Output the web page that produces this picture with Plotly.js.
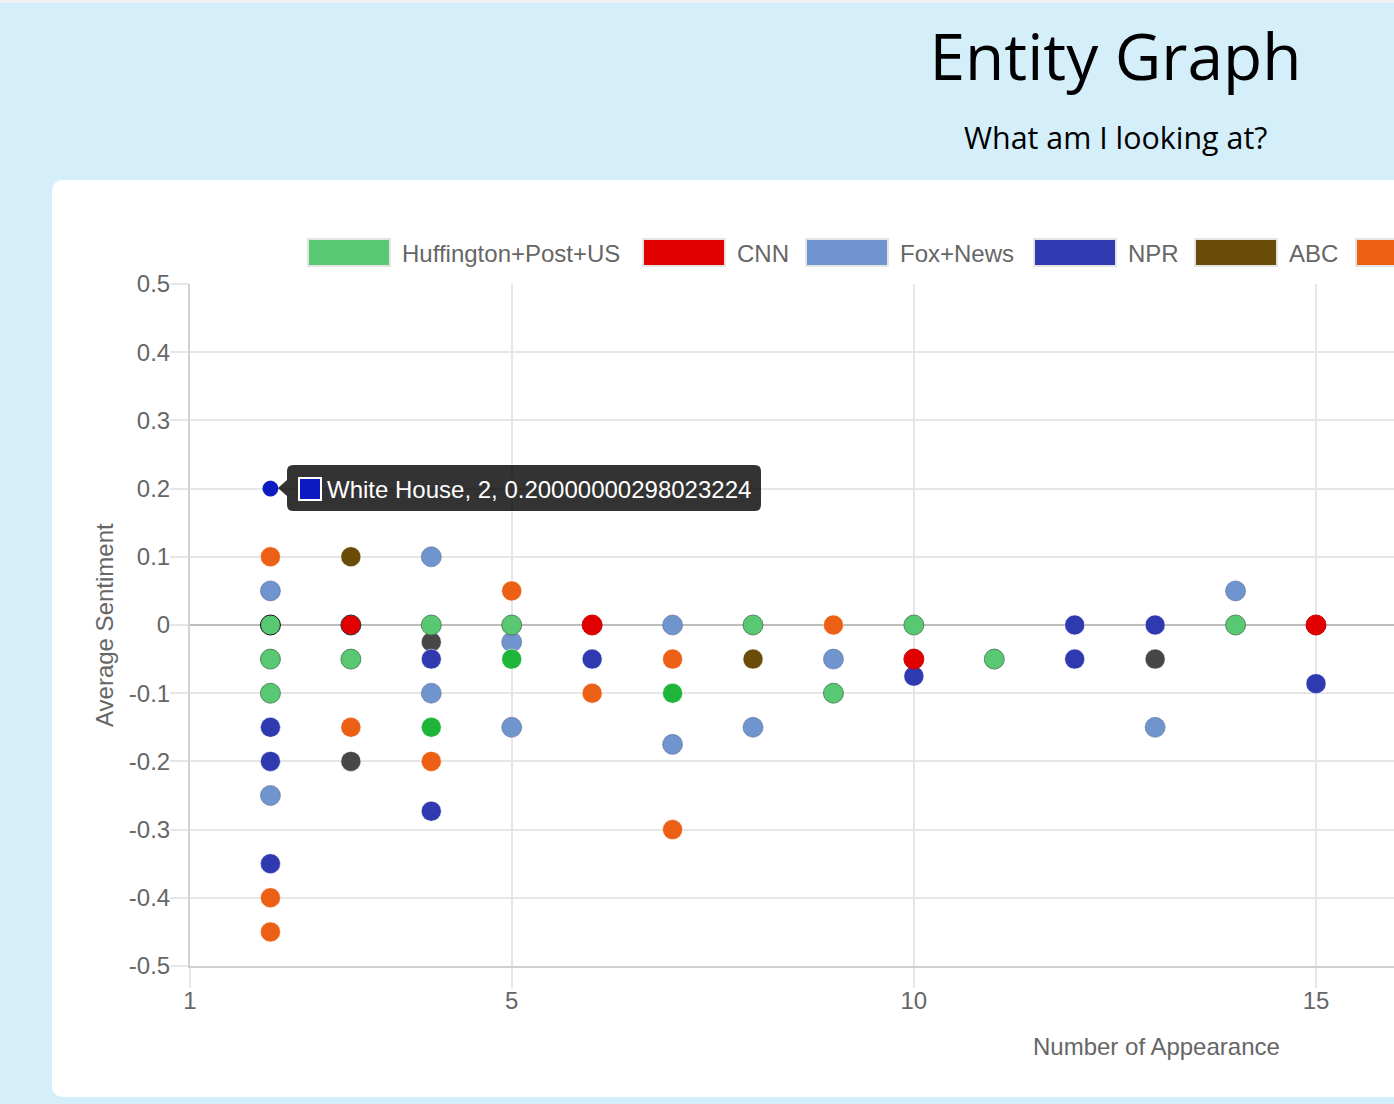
<!DOCTYPE html>
<html>
<head>
<meta charset="utf-8">
<script src="https://cdn.plot.ly/plotly-3.0.1.min.js"></script>
<style>
  html, body { margin:0; padding:0; width:1394px; height:1104px; overflow:hidden; background:#d4eefa; }
  #topstrip { position:absolute; left:0; top:0; width:1394px; height:3px; background:#eef2f4; }
  #card { position:absolute; left:52px; top:180px; width:1420px; height:917px; background:#ffffff; border-radius:10px; }
  #chart { position:absolute; left:0; top:0; width:1394px; height:1104px; }
</style>
</head>
<body>
<div id="topstrip"></div>
<div id="card"></div>
<div id="chart"></div>
<script>
// ---- data ----
const seriesNames = ["Huffington+Post+US", "CNN", "Fox+News", "NPR", "ABC", "Source 6", "Source 7", "Source 8", "Source 9"];
const seriesColors = ["#59c872", "#e00000", "#7094cd", "#2f3ab0", "#6a4b07", "#eb6014", "#474747", "#1fb43a", "#0c1ac2"];

const huffX = [2, 2, 2, 3, 4, 5, 8, 9, 10, 11, 14];
const huffY = [0, -0.05, -0.1, -0.05, 0, 0, 0, -0.1, 0, -0.05, 0];
const cnnX = [3, 6, 10, 15];
const cnnY = [0, 0, -0.05, 0];
const foxX = [2, 2, 4, 4, 5, 5, 7, 7, 8, 9, 13, 14];
const foxY = [0.05, -0.25, 0.1, -0.1, -0.025, -0.15, 0, -0.175, -0.15, -0.05, -0.15, 0.05];
const nprX = [2, 2, 2, 4, 4, 6, 10, 12, 12, 13, 15];
const nprY = [-0.15, -0.2, -0.35, -0.05, -0.273, -0.05, -0.075, 0, -0.05, 0, -0.086];
const abcX = [3, 8];
const abcY = [0.1, -0.05];
const orangeX = [2, 2, 2, 3, 4, 5, 6, 7, 7, 9];
const orangeY = [0.1, -0.4, -0.45, -0.15, -0.2, 0.05, -0.1, -0.05, -0.3, 0];
const greyX = [3, 4, 13];
const greyY = [-0.2, -0.025, -0.05];
const brightGreenX = [4, 5, 7];
const brightGreenY = [-0.15, -0.05, -0.1];
const whiteHouseX = [2];
const whiteHouseY = [0.20000000298023224];
const tooltipEntity = "White House";

const xTickVals = [1, 5, 10, 15];
const xTickText = ["1", "5", "10", "15"];
const yTickVals = [0.5, 0.4, 0.3, 0.2, 0.1, 0, -0.1, -0.2, -0.3, -0.4, -0.5];
const yTickText = ["0.5", "0.4", "0.3", "0.2", "0.1", "0", "-0.1", "-0.2", "-0.3", "-0.4", "-0.5"];

const chartTitle = "Entity Graph";
const chartSubtitle = "What am I looking at?";
const xTitle = "Number of Appearance";
const yTitle = "Average Sentiment";

// ---- layout geometry (pixels) ----
const W = 1394, H = 1104;
const L = 190, R = 1394, T = 284, B = 966;
const px = v => (v - L) / (R - L);
const py = v => (B - v) / (B - T);
const FONT = "Liberation Sans, Arial, Helvetica, sans-serif";

function sc(name, color, xs, ys, size, lineColors) {
  return {
    type: "scatter", mode: "markers", name: name, x: xs, y: ys,
    showlegend: false, hoverinfo: "skip",
    marker: { color: color, size: size, line: { width: 1, color: lineColors } }
  };
}

const huffLines = huffX.map((v, i) => i === 0 ? "#111111" : "rgba(70,120,80,0.85)");
const cnnLines = cnnX.map((v, i) => i === 0 ? "#333333" : "#d00000");

// drawing order: bottom -> top
const traces = [
  sc(seriesNames[6], seriesColors[6], greyX, greyY, 20, "rgba(255,255,255,0.5)"),
  sc(seriesNames[8], seriesColors[8], whiteHouseX, whiteHouseY, 15, seriesColors[8]),
  sc(seriesNames[5], seriesColors[5], orangeX, orangeY, 20, "rgba(255,255,255,0.5)"),
  sc(seriesNames[4], seriesColors[4], abcX, abcY, 20, "rgba(255,255,255,0.5)"),
  sc(seriesNames[3], seriesColors[3], nprX, nprY, 20, "rgba(255,255,255,0.5)"),
  sc(seriesNames[2], seriesColors[2], foxX, foxY, 20, "rgba(90,110,150,0.6)"),
  sc(seriesNames[7], seriesColors[7], brightGreenX, brightGreenY, 20, "rgba(255,255,255,0.5)"),
  sc(seriesNames[1], seriesColors[1], cnnX, cnnY, 20, cnnLines),
  sc(seriesNames[0], seriesColors[0], huffX, huffY, 20, huffLines)
];

// ---- custom legend (Chart.js-style boxes) ----
const legendStarts = [308, 643, 806, 1034, 1195, 1356];
const shapes = [];
const annotations = [];
legendStarts.forEach((x0, i) => {
  shapes.push({
    type: "rect", xref: "paper", yref: "paper",
    x0: px(x0), x1: px(x0 + 82), y0: py(266), y1: py(239),
    fillcolor: seriesColors[i], line: { color: "#e4e4e4", width: 2 }
  });
  if (x0 + 93 < W) {
    annotations.push({
      xref: "paper", yref: "paper", x: px(x0 + 92), y: py(253),
      xanchor: "left", yanchor: "middle", showarrow: false,
      text: seriesNames[i], font: { family: FONT, size: 24, color: "#666666" }
    });
  }
});

// ---- tooltip ----
const tx0 = 287, tx1 = 761, ty0 = 465, ty1 = 511, r = 6;
const P = (x, y) => px(x) + "," + py(y);
const tipPath = "M" + P(tx0 + r, ty0) + " L" + P(tx1 - r, ty0) + " Q" + P(tx1, ty0) + " " + P(tx1, ty0 + r) +
  " L" + P(tx1, ty1 - r) + " Q" + P(tx1, ty1) + " " + P(tx1 - r, ty1) +
  " L" + P(tx0 + r, ty1) + " Q" + P(tx0, ty1) + " " + P(tx0, ty1 - r) +
  " L" + P(tx0, 496) + " L" + P(278, 488) + " L" + P(tx0, 480) +
  " L" + P(tx0, ty0 + r) + " Q" + P(tx0, ty0) + " " + P(tx0 + r, ty0) + " Z";
shapes.push({ type: "path", xref: "paper", yref: "paper", path: tipPath, fillcolor: "rgba(0,0,0,0.8)", line: { width: 0 } });
shapes.push({ type: "rect", xref: "paper", yref: "paper", x0: px(299), x1: px(321), y0: py(500), y1: py(478),
  fillcolor: seriesColors[8], line: { color: "#ffffff", width: 2 } });
annotations.push({
  xref: "paper", yref: "paper", x: px(325), y: py(489), xanchor: "left", yanchor: "middle", showarrow: false,
  text: tooltipEntity + ", " + whiteHouseX[0] + ", " + String(whiteHouseY[0]),
  font: { family: FONT, size: 24, color: "#ffffff" }
});

// ---- titles ----
annotations.push({
  xref: "paper", yref: "paper", x: px(1115.5), y: py(138), xanchor: "center", yanchor: "middle", showarrow: false,
  text: chartSubtitle, font: { family: "Open Sans, sans-serif", size: 30.4, color: "#000000" }
});
annotations.push({
  xref: "paper", yref: "paper", x: px(1156), y: py(1046), xanchor: "center", yanchor: "middle", showarrow: false,
  text: xTitle, font: { family: FONT, size: 24, color: "#666666" }
});
annotations.push({
  xref: "paper", yref: "paper", x: px(104), y: py(625), xanchor: "center", yanchor: "middle", showarrow: false,
  textangle: -90, text: yTitle, font: { family: FONT, size: 24, color: "#666666" }
});

const layout = {
  width: W, height: H,
  margin: { l: L, r: W - R, t: T, b: H - B, pad: 0 },
  paper_bgcolor: "rgba(0,0,0,0)", plot_bgcolor: "rgba(0,0,0,0)",
  title: {
    text: chartTitle, xref: "container", yref: "container",
    x: 1115.5 / W, xanchor: "center", y: 1 - 58 / H, yanchor: "middle",
    font: { family: "Open Sans, sans-serif", size: 64, color: "#000000" }
  },
  showlegend: false,
  hovermode: false,
  xaxis: {
    range: [1, 1 + (R - L) / ((1316 - 190) / 14)],
    tickvals: xTickVals, ticktext: xTickText,
    showgrid: true, gridcolor: "#e6e6e6", gridwidth: 2,
    zeroline: false,
    showline: true, linecolor: "#cfcfcf", linewidth: 2,
    ticks: "outside", ticklen: 20, tickwidth: 2, tickcolor: "#e6e6e6",
    ticklabelstandoff: -8,
    tickfont: { family: FONT, size: 24, color: "#666666" },
    fixedrange: true
  },
  yaxis: {
    range: [-0.5, 0.5],
    tickvals: yTickVals, ticktext: yTickText,
    showgrid: true, gridcolor: "#e6e6e6", gridwidth: 2,
    zeroline: true, zerolinecolor: "#bdbdbd", zerolinewidth: 2,
    showline: true, linecolor: "#d2d2d2", linewidth: 2,
    ticks: "outside", ticklen: 18, tickwidth: 2, tickcolor: "#e6e6e6",
    ticklabelstandoff: -5,
    tickfont: { family: FONT, size: 24, color: "#666666" },
    fixedrange: true
  },
  shapes: shapes,
  annotations: annotations
};

Plotly.newPlot("chart", traces, layout, { displayModeBar: false, staticPlot: true });
</script>
</body>
</html>
